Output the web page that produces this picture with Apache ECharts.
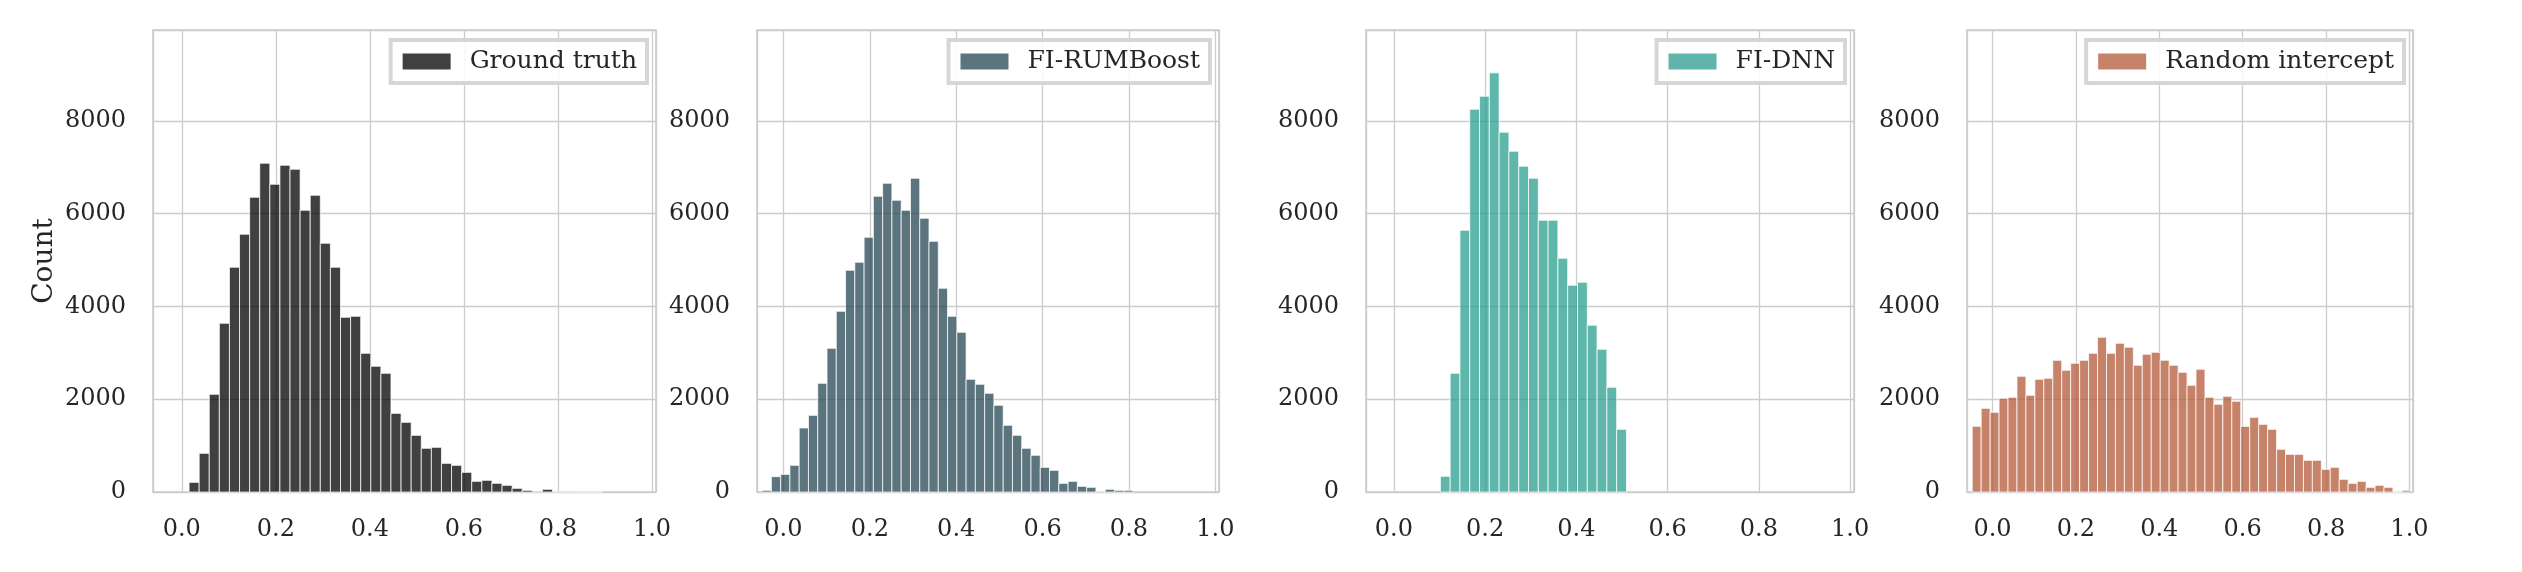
<!DOCTYPE html>
<html>
<head>
<meta charset="utf-8">
<script src="https://cdn.jsdelivr.net/npm/echarts@6/dist/echarts.min.js"></script>
<style>
html,body{margin:0;padding:0;background:#fff;}
#chart{width:2522px;height:572px;}
</style>
</head>
<body>
<div id="chart"></div>
<script>
// ---- Data ----
const seriesNames = ['Ground truth', 'FI-RUMBoost', 'FI-DNN', 'Random intercept'];
const binWidth = 0.02147;
const binStartGT = 0.0155;
const countsGT = [208, 834, 2106, 3637, 4845, 5557, 6354, 7088, 6634, 7044, 6958, 6074, 6397, 5362, 4845, 3767, 3788, 2990, 2710, 2559, 1696, 1502, 1222, 942, 963, 618, 575, 424, 230, 252, 187, 144, 79, 36, 14, 58, 5, 5, 5, 5, 5];
const binStartRB = -0.0494;
const countsRB = [36, 330, 380, 575, 1380, 1653, 2343, 3098, 3896, 4780, 4953, 5492, 6376, 6656, 6290, 6074, 6764, 5901, 5405, 4392, 3788, 3443, 2430, 2322, 2128, 1869, 1438, 1222, 942, 791, 532, 467, 187, 230, 122, 101, 14, 58, 36, 36];
const binStartDNN = 0.1018;
const countsDNN = [338, 2559, 5643, 8252, 8532, 9036, 7756, 7346, 7023, 6764, 5858, 5858, 5039, 4457, 4521, 3594, 3077, 2257, 1351];
const binStartRI = -0.0487;
const countsRI = [1416, 1804, 1718, 2020, 2041, 2494, 2085, 2430, 2451, 2839, 2624, 2775, 2839, 2990, 3335, 2990, 3206, 3120, 2731, 2969, 3012, 2839, 2731, 2580, 2300, 2645, 2041, 1890, 2063, 1955, 1416, 1610, 1459, 1351, 920, 812, 812, 683, 683, 489, 532, 273, 187, 230, 101, 144, 101, 0, 36];
const xTickLabels = ['0.0', '0.2', '0.4', '0.6', '0.8', '1.0'];
const yTickLabels = ['0', '2000', '4000', '6000', '8000'];
const yLabel = 'Count';

// ---- Styling / layout ----
const baseColors = ['#000000', '#264653', '#2a9d8f', '#b45a38'];
const legendColors = ['#404040', '#5c747e', '#5fb5ab', '#c7836a'];
const FONT = 'DejaVu Serif';
const TXT = '#262626';
const GRIDC = '#cccccc';
const W = 2522;
const panels = [
  {left: 153, width: 503},
  {left: 757, width: 462},
  {left: 1366, width: 488},
  {left: 1967, width: 446}
];
const TOP = 30, HEIGHT = 462;
const XMIN = -0.0612, XMAX = 1.0085, YMAX = 9960;

function toBins(start, counts) {
  return counts.map((c, i) => [start + i * binWidth, start + (i + 1) * binWidth, c]);
}
const allBins = [
  toBins(binStartGT, countsGT),
  toBins(binStartRB, countsRB),
  toBins(binStartDNN, countsDNN),
  toBins(binStartRI, countsRI)
];

function makeRender(color) {
  return function (params, api) {
    const p0 = api.coord([api.value(0), api.value(2)]);
    const p1 = api.coord([api.value(1), 0]);
    return {
      type: 'rect',
      shape: {x: p0[0], y: p0[1], width: p1[0] - p0[0], height: p1[1] - p0[1]},
      style: {fill: color, stroke: '#ffffff', lineWidth: 1, opacity: 0.75}
    };
  };
}

const xLabelSet = new Set(xTickLabels);
const yLabelSet = new Set(yTickLabels);

const option = {
  backgroundColor: '#ffffff',
  animation: false,
  grid: panels.map(p => ({
    left: p.left, top: TOP, width: p.width, height: HEIGHT,
    show: true, borderColor: GRIDC, borderWidth: 1.6, backgroundColor: 'transparent'
  })),
  xAxis: panels.map((p, i) => ({
    type: 'value', gridIndex: i, min: XMIN, max: XMAX, splitNumber: 5,
    axisLine: {show: false}, axisTick: {show: false},
    splitLine: {show: true, lineStyle: {color: GRIDC, width: 1.3}},
    axisLabel: {
      fontFamily: FONT, fontSize: 24, color: TXT, margin: 26,
      showMinLabel: true, showMaxLabel: true,
      formatter: v => { const s = (Math.round(v * 1000) / 1000).toFixed(1); return (xLabelSet.has(s) && Math.abs(v - parseFloat(s)) < 1e-6) ? s : ''; }
    }
  })),
  yAxis: panels.map((p, i) => ({
    type: 'value', gridIndex: i, min: 0, max: YMAX, interval: 2000,
    name: i === 0 ? yLabel : '',
    nameLocation: 'middle', nameGap: 94,
    nameTextStyle: {fontFamily: FONT, fontSize: 28, color: TXT},
    axisLine: {show: false}, axisTick: {show: false},
    splitLine: {show: true, lineStyle: {color: GRIDC, width: 1.3}},
    axisLabel: {
      fontFamily: FONT, fontSize: 24, color: TXT, margin: 27,
      formatter: v => yLabelSet.has(String(v)) ? String(v) : ''
    }
  })),
  legend: panels.map((p, i) => ({
    data: [{name: seriesNames[i], itemStyle: {color: legendColors[i], opacity: 1}}],
    right: W - (p.left + p.width) + 9,
    top: 40,
    icon: 'path://M0,0L48,0L48,16L0,16Z',
    itemWidth: 48, itemHeight: 16,
    padding: [9, 10, 9, 12],
    borderColor: '#d6d6d6', borderWidth: 4, borderRadius: 0,
    backgroundColor: 'rgba(255,255,255,0.85)',
    selectedMode: false,
    textStyle: {fontFamily: FONT, fontSize: 25, color: TXT, padding: [0, 0, 0, 14]}
  })),
  series: allBins.map((bins, i) => ({
    type: 'custom', name: seriesNames[i],
    xAxisIndex: i, yAxisIndex: i,
    itemStyle: {color: legendColors[i]},
    renderItem: makeRender(baseColors[i]),
    encode: {x: [0, 1], y: 2},
    data: bins
  }))
};

const chart = echarts.init(document.getElementById('chart'), null, {renderer: 'canvas'});
chart.setOption(option);
</script>
</body>
</html>
